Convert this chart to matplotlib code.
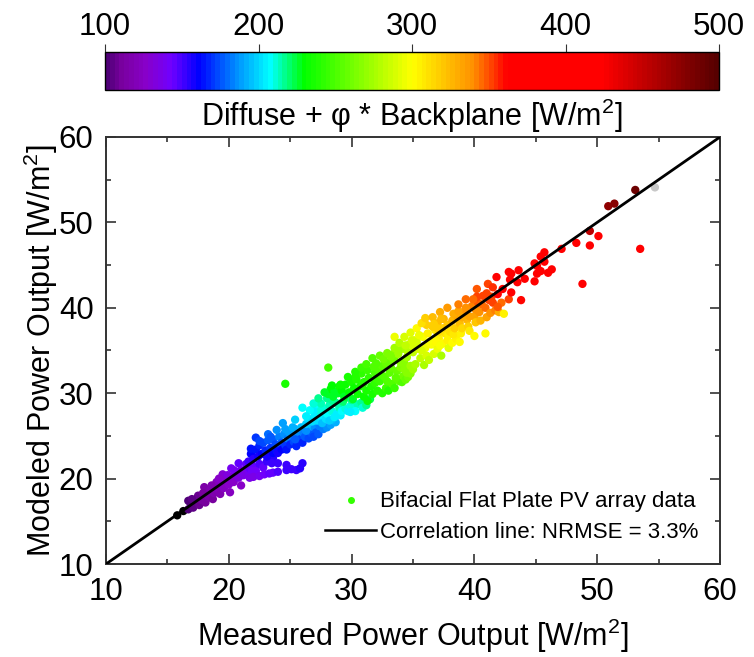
import matplotlib
matplotlib.use('Agg')
import matplotlib.pyplot as plt
from matplotlib.colors import LinearSegmentedColormap, Normalize
from matplotlib.lines import Line2D

plt.rcParams['font.family'] = ['Liberation Sans', 'DejaVu Sans']
plt.rcParams['mathtext.fontset'] = 'custom'
plt.rcParams['mathtext.rm'] = 'Liberation Sans'
plt.rcParams['mathtext.default'] = 'regular'

# (measured, modeled, diffuse + phi * backplane)
below_range = [(15.8, 15.7, 95), (16.3, 16.2, 95)]
above_range = [(54.7, 54.1, 520)]

violet_points = [
    (16.7, 16.4, 102), (16.9, 17.0, 104), (16.7, 17.4, 103), (17.1, 16.6, 105),
    (17.3, 17.2, 106), (17.5, 18.0, 108), (17.6, 16.9, 107), (17.8, 17.5, 110),
    (18.0, 19.0, 115), (18.1, 17.2, 110), (18.2, 18.2, 114), (18.4, 17.8, 113),
    (18.5, 18.7, 117), (18.7, 17.6, 112), (18.8, 18.3, 118), (19.0, 19.6, 124),
    (19.0, 18.9, 120), (19.2, 18.6, 119), (19.3, 18.2, 118), (19.4, 19.3, 124),
    (19.5, 20.5, 130), (19.6, 18.9, 122), (19.8, 19.8, 128), (20.0, 19.3, 126),
    (20.1, 18.4, 122), (20.2, 21.2, 138), (20.3, 20.2, 132), (20.4, 19.6, 128),
    (20.6, 20.8, 136), (20.8, 21.8, 145), (20.8, 20.1, 132), (21.0, 19.2, 128),
    (21.0, 21.0, 138), (21.2, 20.4, 136), (21.4, 21.7, 146), (21.5, 20.8, 140),
    (21.7, 21.2, 144), (22.0, 21.4, 146), (22.2, 20.9, 142), (22.5, 21.7, 148),
    (22.8, 21.3, 146), (23.1, 22.0, 150), (23.4, 22.2, 152), (17.0, 17.6, 104),
    (17.9, 18.3, 112), (18.6, 19.2, 118), (19.2, 20.0, 126), (19.9, 20.4, 132),
    (20.4, 21.0, 138), (21.0, 20.6, 136), (21.9, 20.9, 142), (23.6, 22.4, 154),
]
branch_points = [
    (21.7, 20.1, 135), (22.0, 20.2, 137), (22.5, 20.3, 140), (22.9, 20.5, 142),
    (23.3, 20.6, 144), (23.6, 20.7, 145), (24.0, 20.8, 148), (24.7, 21.0, 150),
    (25.1, 21.1, 152), (25.5, 21.0, 152), (25.8, 21.2, 154), (26.0, 21.8, 156),
    (24.7, 21.6, 152), (23.5, 21.8, 150), (24.0, 21.8, 152),
]
blue_points = [
    (21.6, 22.0, 152), (21.8, 22.9, 160), (22.0, 22.3, 156), (22.2, 24.8, 170),
    (22.2, 23.4, 164), (22.4, 22.6, 158), (22.5, 23.9, 168), (22.7, 22.9, 160),
    (22.8, 24.2, 172), (23.0, 23.3, 166), (23.1, 22.6, 158), (23.2, 24.5, 176),
    (23.4, 23.6, 170), (23.6, 23.0, 162), (23.6, 24.6, 178), (23.8, 24.0, 174),
    (23.9, 23.2, 164), (24.0, 23.0, 158), (24.1, 24.9, 182), (24.3, 24.2, 176),
    (24.3, 23.4, 162), (24.5, 25.2, 185), (24.6, 23.9, 170), (24.7, 23.4, 164),
    (24.8, 24.7, 182), (25.0, 25.6, 190), (25.0, 24.0, 168), (25.2, 24.9, 184),
    (25.3, 24.3, 172), (25.4, 25.8, 192), (25.5, 23.8, 166), (25.6, 25.2, 186),
    (25.8, 24.6, 174), (25.9, 26.0, 194), (26.0, 24.2, 168), (26.1, 25.3, 182),
    (26.2, 24.9, 176), (26.4, 25.8, 190), (26.5, 24.7, 172), (26.7, 26.2, 196),
    (26.8, 25.2, 178), (27.0, 25.9, 185), (27.1, 25.4, 176), (27.4, 26.1, 182),
    (24.9, 25.4, 188), (25.4, 24.6, 178), (26.3, 25.6, 186), (26.9, 24.9, 172),
    (27.3, 25.2, 178), (27.7, 25.8, 184), (28.0, 26.0, 186), (28.3, 26.3, 190),
    (28.7, 26.6, 192), (28.4, 26.9, 196), (21.8, 23.5, 164), (22.5, 24.4, 172),
    (23.2, 25.2, 180), (23.9, 25.7, 186), (23.4, 24.9, 178), (24.4, 26.5, 190),
    (24.6, 25.8, 190), (25.2, 26.0, 192), (25.4, 26.9, 198),
]
cyan_points = [
    (26.3, 26.4, 198), (26.5, 27.0, 202), (26.8, 26.7, 200), (27.0, 27.4, 206),
    (27.2, 26.8, 200), (27.3, 28.0, 210), (27.5, 27.2, 204), (27.6, 26.5, 194),
    (27.8, 28.2, 212), (27.9, 27.0, 200), (28.0, 27.6, 208), (28.2, 26.8, 198),
    (28.2, 28.6, 214), (28.4, 27.9, 210), (28.6, 27.2, 204), (28.7, 28.9, 218),
    (28.8, 27.6, 206), (29.0, 28.3, 214), (29.1, 27.4, 204), (29.2, 27.9, 208),
    (29.5, 28.2, 210), (29.7, 27.9, 206), (29.9, 28.5, 212), (30.2, 28.4, 210),
    (30.5, 28.7, 214), (30.8, 28.9, 216), (27.0, 28.6, 208), (28.0, 29.4, 218),
    (26.9, 27.9, 206), (27.5, 28.8, 214), (28.4, 29.2, 218), (29.3, 29.0, 220),
    (29.6, 29.5, 222), (30.0, 29.2, 218), (30.3, 27.9, 208), (30.9, 28.3, 212),
    (31.2, 28.6, 216), (31.5, 29.3, 222), (29.9, 27.8, 206), (26.0, 28.3, 208),
    (26.6, 28.0, 208), (26.3, 27.3, 204), (26.9, 28.8, 212), (27.3, 29.4, 216),
]
green_points = [
    (24.6, 31.1, 235), (28.1, 33.0, 248), (28.1, 29.9, 226), (28.3, 30.5, 230),
    (28.5, 29.6, 226), (28.6, 30.2, 228), (28.9, 30.0, 228), (29.0, 30.8, 232),
    (29.2, 30.3, 230), (29.4, 29.6, 228), (29.5, 31.0, 234), (29.8, 30.1, 230),
    (30.0, 31.3, 236), (30.1, 29.3, 228), (30.2, 30.6, 232), (30.4, 31.6, 238),
    (30.5, 29.9, 232), (30.7, 30.8, 236), (30.8, 32.3, 242), (31.0, 29.6, 232),
    (31.0, 31.3, 238), (31.2, 30.3, 236), (31.3, 29.1, 232), (31.4, 31.8, 242),
    (31.6, 30.8, 240), (31.7, 29.9, 236), (31.9, 32.4, 248), (31.9, 31.2, 242),
    (32.1, 30.3, 240), (32.2, 32.8, 252), (32.3, 31.4, 246), (32.5, 30.0, 240),
    (32.5, 33.2, 256), (32.7, 31.9, 250), (32.8, 30.6, 244), (33.0, 30.3, 240),
    (33.0, 33.6, 260), (33.1, 32.4, 254), (33.3, 31.1, 250), (33.5, 30.6, 246),
    (33.5, 33.9, 262), (33.7, 32.6, 258), (33.9, 31.4, 256), (34.1, 31.3, 252),
    (34.2, 32.0, 262), (34.4, 31.6, 258), (34.6, 31.9, 262), (27.8, 30.1, 228),
    (30.3, 31.9, 238), (30.9, 31.0, 238), (31.3, 32.7, 246), (31.8, 33.1, 250),
    (32.0, 31.7, 246), (32.4, 32.2, 252), (32.8, 33.5, 258), (32.9, 31.4, 250),
    (33.2, 33.0, 258), (33.4, 34.6, 266), (33.6, 31.8, 256), (34.0, 33.0, 264),
    (34.3, 33.5, 268), (34.5, 32.4, 266), (34.8, 32.3, 268), (35.0, 32.8, 272),
    (28.4, 30.9, 230), (29.1, 31.0, 232), (29.7, 31.9, 236), (30.3, 32.5, 240),
    (30.8, 33.0, 244), (31.2, 33.4, 248), (31.7, 34.1, 252), (32.0, 33.5, 252),
    (32.3, 34.4, 258), (32.6, 34.0, 260),
]
lime_points = [
    (33.5, 36.6, 296), (33.8, 34.6, 272), (34.0, 33.6, 268), (34.2, 35.2, 278),
    (34.3, 32.8, 266), (34.5, 34.2, 274), (34.7, 35.7, 284), (34.8, 33.2, 272),
    (35.0, 34.8, 282), (35.1, 36.2, 292), (35.2, 33.4, 276), (35.4, 35.2, 288),
    (35.6, 34.1, 282), (35.8, 36.6, 298), (35.9, 33.3, 278), (36.0, 35.3, 294),
    (36.1, 34.4, 288), (36.2, 37.0, 304), (36.3, 33.9, 284), (36.5, 35.7, 298),
    (36.7, 34.6, 290), (36.8, 37.4, 308), (37.0, 35.2, 296), (37.1, 36.4, 304),
    (37.3, 34.4, 276), (37.4, 35.8, 300), (37.6, 37.0, 308), (37.8, 36.2, 304),
    (37.9, 35.3, 292), (36.6, 36.2, 300), (35.3, 36.0, 290), (34.6, 34.8, 280),
    (35.0, 35.5, 288), (35.7, 35.0, 288), (36.3, 36.0, 298), (36.9, 36.0, 302),
    (37.2, 35.6, 298), (37.9, 36.8, 306), (38.2, 35.9, 300), (38.5, 36.4, 304),
    (38.8, 36.0, 300), (32.9, 34.7, 264), (33.2, 34.3, 264), (33.5, 35.3, 272),
    (33.8, 35.0, 274), (33.9, 35.9, 280), (34.3, 36.6, 288), (34.4, 35.6, 284),
    (34.8, 37.1, 292), (34.9, 36.2, 290), (35.3, 37.6, 300), (35.5, 36.8, 296),
]
orange_points = [
    (36.6, 37.8, 318), (37.0, 38.2, 322), (37.4, 37.6, 316), (37.5, 38.7, 326),
    (37.8, 38.0, 320), (38.0, 37.2, 312), (38.2, 38.5, 326), (38.3, 36.9, 308),
    (38.4, 37.6, 316), (38.6, 39.0, 332), (38.8, 38.2, 322), (38.9, 37.0, 306),
    (39.0, 37.6, 314), (39.2, 39.6, 338), (39.4, 38.6, 328), (39.5, 37.8, 316),
    (39.6, 37.3, 308), (39.8, 40.2, 342), (40.0, 39.0, 332), (40.0, 36.7, 300),
    (40.1, 38.3, 320), (40.3, 40.6, 348), (40.4, 39.5, 338), (40.5, 38.5, 326),
    (40.9, 37.0, 302), (40.9, 40.0, 344), (41.0, 38.9, 332), (41.0, 41.7, 352),
    (41.1, 42.8, 352), (41.3, 39.4, 338), (41.5, 42.4, 354), (41.5, 40.6, 350),
    (41.7, 39.7, 342), (40.2, 42.2, 348), (40.2, 41.3, 350), (40.7, 41.4, 352),
    (39.9, 41.0, 346), (42.2, 40.6, 346), (42.8, 41.0, 350), (42.0, 39.5, 330),
    (42.4, 39.3, 304), (39.0, 38.9, 330), (39.6, 39.0, 334), (40.1, 39.8, 340),
    (40.6, 40.4, 346), (41.2, 40.9, 350), (38.3, 39.3, 330), (37.2, 37.2, 312),
    (36.1, 38.0, 316), (37.0, 37.6, 316), (39.3, 40.0, 340), (38.7, 39.6, 334),
    (41.4, 41.3, 352), (41.9, 40.1, 348), (35.7, 38.2, 310), (36.0, 38.8, 316),
    (36.6, 38.9, 322), (37.2, 39.5, 330), (37.8, 40.0, 336), (38.7, 40.4, 342),
    (39.3, 41.0, 346), (36.7, 38.1, 318), (37.3, 38.7, 324),
]
red_points = [
    (41.8, 43.6, 372), (41.9, 41.6, 366), (42.3, 42.2, 368), (42.8, 44.2, 376),
    (42.9, 43.3, 374), (43.0, 44.0, 376), (43.0, 41.8, 366), (43.5, 43.0, 372),
    (43.6, 44.4, 380), (43.8, 40.9, 362), (44.1, 43.4, 374), (44.9, 43.1, 378),
    (44.9, 45.2, 385), (45.1, 44.9, 384), (45.1, 44.0, 382), (45.4, 46.0, 392),
    (45.4, 44.3, 384), (45.7, 46.5, 396), (45.7, 45.4, 390), (46.0, 44.1, 386),
    (46.3, 44.5, 388), (47.1, 46.9, 400), (48.3, 47.6, 405), (48.8, 42.8, 380),
    (49.4, 47.3, 408), (50.1, 48.4, 412), (53.5, 46.9, 420),
]
dark_points = [(49.4, 49.0, 455), (50.9, 51.9, 472), (51.4, 52.2, 476), (53.1, 53.8, 490)]

colorbar_stops = [
    (100, '#500078'), (110, '#7a00a0'), (125, '#8800c8'), (142, '#7000ff'), (160, '#0000ff'),
    (185, '#0090ff'), (207, '#00ffff'), (229, '#00ff00'), (300, '#ffff00'),
    (340, '#ff9000'), (362, '#ff0000'), (425, '#ff0000'), (500, '#570000'),
]
bar_ticks = [100, 200, 300, 400, 500]
axis_ticks = [10, 20, 30, 40, 50, 60]
minor_ticks = [15, 25, 35, 45, 55]


def create_colormap(stops):
    low, high = stops[0][0], stops[-1][0]
    nodes = [((v - low) / (high - low), c) for v, c in stops]
    cmap = LinearSegmentedColormap.from_list('rainbow_bar', nodes, N=128)
    cmap.set_under('black')
    cmap.set_over('#c8c8c8')
    return cmap


def px_axes(fig, left, top, right, bottom):
    w, h = fig.get_size_inches() * fig.dpi
    return fig.add_axes([left / w, 1 - bottom / h, (right - left) / w, (bottom - top) / h])


def style_main_axes(ax):
    ax.set_xlim(10, 60)
    ax.set_ylim(10, 60)
    ax.set_xticks(axis_ticks)
    ax.set_yticks(axis_ticks)
    ax.set_xticks(minor_ticks, minor=True)
    ax.set_yticks(minor_ticks, minor=True)
    ax.tick_params(which='major', direction='in', top=True, right=True, length=7, width=1.1,
                   labelsize=22.5, pad=9, color='#222222')
    ax.tick_params(which='minor', direction='in', top=True, right=True, length=3.6, width=1.1,
                   color='#222222')
    for spine in ax.spines.values():
        spine.set_linewidth(1.4)
        spine.set_color('#333333')
    ax.set_xlabel('Measured Power Output [W/m$^{2}$]', fontsize=22, labelpad=7)
    ax.set_ylabel('Modeled Power Output [W/m$^{2}$]', fontsize=22, labelpad=-1)


def draw_legend(ax):
    handles = [
        Line2D([], [], linestyle='none', marker='o', markersize=4, color='#33ff00'),
        Line2D([], [], color='black', linewidth=1.8),
    ]
    labels = ['Bifacial Flat Plate PV array data', 'Correlation line: NRMSE = 3.3%']
    ax.legend(handles, labels, frameon=False, fontsize=16, loc='lower right',
              bbox_to_anchor=(0.998, 0.003), handlelength=2.3, handletextpad=0.18,
              labelspacing=0.42)


def main():
    fig = plt.figure(figsize=(7.54, 6.57), dpi=100)
    ax = px_axes(fig, 106, 137, 720, 564)
    cax = px_axes(fig, 105, 52, 719, 90)

    cmap = create_colormap(colorbar_stops)
    norm = Normalize(100, 500)
    points = (below_range + violet_points + branch_points + blue_points + cyan_points
              + green_points + lime_points + orange_points + red_points + dark_points
              + above_range)
    measured = [p[0] for p in points]
    modeled = [p[1] for p in points]
    irradiance = [p[2] for p in points]
    sc = ax.scatter(measured, modeled, c=irradiance, cmap=cmap, norm=norm, s=36, linewidths=0,
                    clip_on=False, zorder=2)
    ax.plot([10, 60], [10, 60], color='black', linewidth=2.0, zorder=3)
    style_main_axes(ax)
    draw_legend(ax)

    bar = fig.colorbar(sc, cax=cax, orientation='horizontal')
    bar.set_ticks(bar_ticks)
    cax.xaxis.set_ticks_position('top')
    cax.tick_params(length=6, width=0.8, labelsize=22.5, pad=1, color='#333333')
    cax.xaxis.set_label_position('bottom')
    bar.set_label('Diffuse + φ * Backplane [W/m$^{2}$]', fontsize=22, labelpad=5)
    bar.outline.set_linewidth(1.0)

    fig.savefig('out.png', dpi=100)


main()
